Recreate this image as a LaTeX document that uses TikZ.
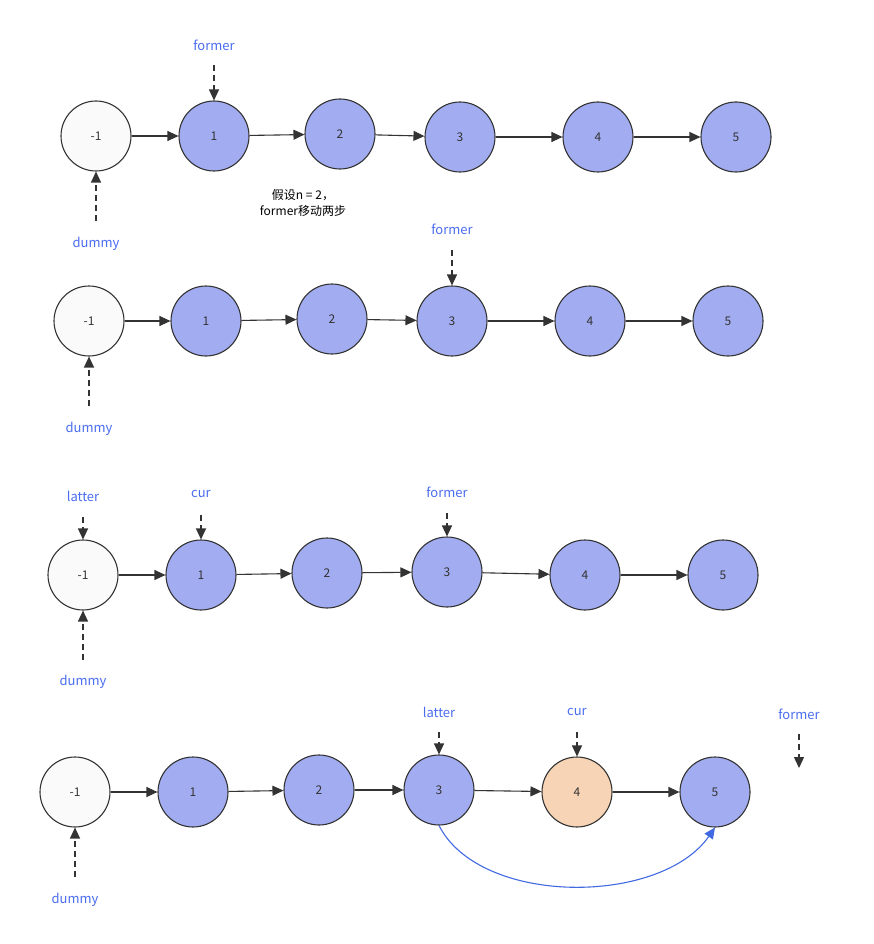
\documentclass[tikz,border=0pt]{standalone}
\usepackage{fontspec}
\setmainfont{Noto Sans CJK SC}
\usetikzlibrary{arrows.meta}
\definecolor{nodeblue}{HTML}{A2ACF0}
\definecolor{nodeorange}{HTML}{F7D4B5}
\definecolor{nodewhite}{HTML}{FAFAFA}
\definecolor{lblblue}{HTML}{4A6CF0}
\definecolor{curveblue}{HTML}{4169E1}
\definecolor{edge}{HTML}{333333}
\tikzset{
  lnode/.style={circle,draw=edge,line width=1.1pt,minimum size=70pt,inner sep=0pt,font=\fontsize{12}{14}\selectfont,text=edge,fill=nodeblue},
  dnode/.style={lnode,fill=nodewhite},
  onode/.style={lnode,fill=nodeorange},
  lbl/.style={text=lblblue,font=\fontsize{13}{15}\selectfont,inner sep=1pt},
  link/.style={draw=edge,line width=1.1pt,-{Triangle[length=11pt,width=10pt]}},
  ptr/.style={draw=edge,line width=1.3pt,dash pattern=on 6pt off 4pt,-{Triangle[length=11pt,width=10pt]}},
}
\begin{document}
\begin{tikzpicture}[x=1pt,y=-1pt]
\useasboundingbox (0,0) rectangle (873,944);
% Row 1
\node[dnode] (a0) at (96,136) {-1};
\node[lnode] (a1) at (214,136) {1};
\node[lnode] (a2) at (340,134) {2};
\node[lnode] (a3) at (460,137) {3};
\node[lnode] (a4) at (598,137) {4};
\node[lnode] (a5) at (736,137) {5};
\foreach \i/\j in {0/1,1/2,2/3,3/4,4/5} \draw[link] (a\i) -- (a\j);
\node[lbl] (af) at (214,45) {former};
\coordinate (afs) at (214,65);
\draw[ptr] (afs) -- (a1.north);
\node[lbl] (ad) at (96,244) {dummy};
\coordinate (ads) at (96,221);
\draw[ptr] (ads) -- (a0.south);
\node[align=center,font=\fontsize{12}{16}\selectfont,text=black] (note) at (303,203) {假设n = 2，\\former移动两步};
% Row 2
\node[dnode] (b0) at (89,321) {-1};
\node[lnode] (b1) at (206,321) {1};
\node[lnode] (b2) at (332,319) {2};
\node[lnode] (b3) at (452,321) {3};
\node[lnode] (b4) at (590,321) {4};
\node[lnode] (b5) at (728,321) {5};
\foreach \i/\j in {0/1,1/2,2/3,3/4,4/5} \draw[link] (b\i) -- (b\j);
\node[lbl] (bf) at (452,229) {former};
\coordinate (bfs) at (452,250);
\draw[ptr] (bfs) -- (b3.north);
\node[lbl] (bd) at (89,429) {dummy};
\coordinate (bds) at (89,406);
\draw[ptr] (bds) -- (b0.south);
% Row 3
\node[dnode] (c0) at (83,575) {-1};
\node[lnode] (c1) at (201,575) {1};
\node[lnode] (c2) at (327,573) {2};
\node[lnode] (c3) at (447,572) {3};
\node[lnode] (c4) at (585,575) {4};
\node[lnode] (c5) at (723,575) {5};
\foreach \i/\j in {0/1,1/2,2/3,3/4,4/5} \draw[link] (c\i) -- (c\j);
\node[lbl] (cl) at (83,496) {latter};
\coordinate (cls) at (83,517);
\draw[ptr] (cls) -- (c0.north);
\node[lbl] (cc) at (201,494) {cur};
\coordinate (ccs) at (201,515);
\draw[ptr] (ccs) -- (c1.north);
\node[lbl] (cf) at (447,492) {former};
\coordinate (cfs) at (447,513);
\draw[ptr] (cfs) -- (c3.north);
\node[lbl] (cd) at (83,682) {dummy};
\coordinate (cds) at (83,660);
\draw[ptr] (cds) -- (c0.south);
% Row 4
\node[dnode] (d0) at (75,792) {-1};
\node[lnode] (d1) at (193,792) {1};
\node[lnode] (d2) at (319,790) {2};
\node[lnode] (d3) at (439,790) {3};
\node[onode] (d4) at (577,792) {4};
\node[lnode] (d5) at (715,792) {5};
\foreach \i/\j in {0/1,1/2,2/3,3/4,4/5} \draw[link] (d\i) -- (d\j);
\node[lbl] (dl) at (439,712) {latter};
\coordinate (dls) at (439,732);
\draw[ptr] (dls) -- (d3.north);
\node[lbl] (dc) at (577,712) {cur};
\coordinate (dcs) at (577,732);
\draw[ptr] (dcs) -- (d4.north);
\node[lbl] (dfm) at (799,714) {former};
\coordinate (dfs) at (799,734);
\coordinate (dfe) at (799,768);
\draw[ptr] (dfs) -- (dfe);
\node[lbl] (dd) at (75,900) {dummy};
\coordinate (dds) at (75,877);
\draw[ptr] (dds) -- (d0.south);
\draw[draw=curveblue,line width=1.1pt,-{Triangle[length=11pt,width=10pt]}] (d3.south) .. controls (480,906) and (660,906) .. (d5.south);
\end{tikzpicture}
\end{document}
